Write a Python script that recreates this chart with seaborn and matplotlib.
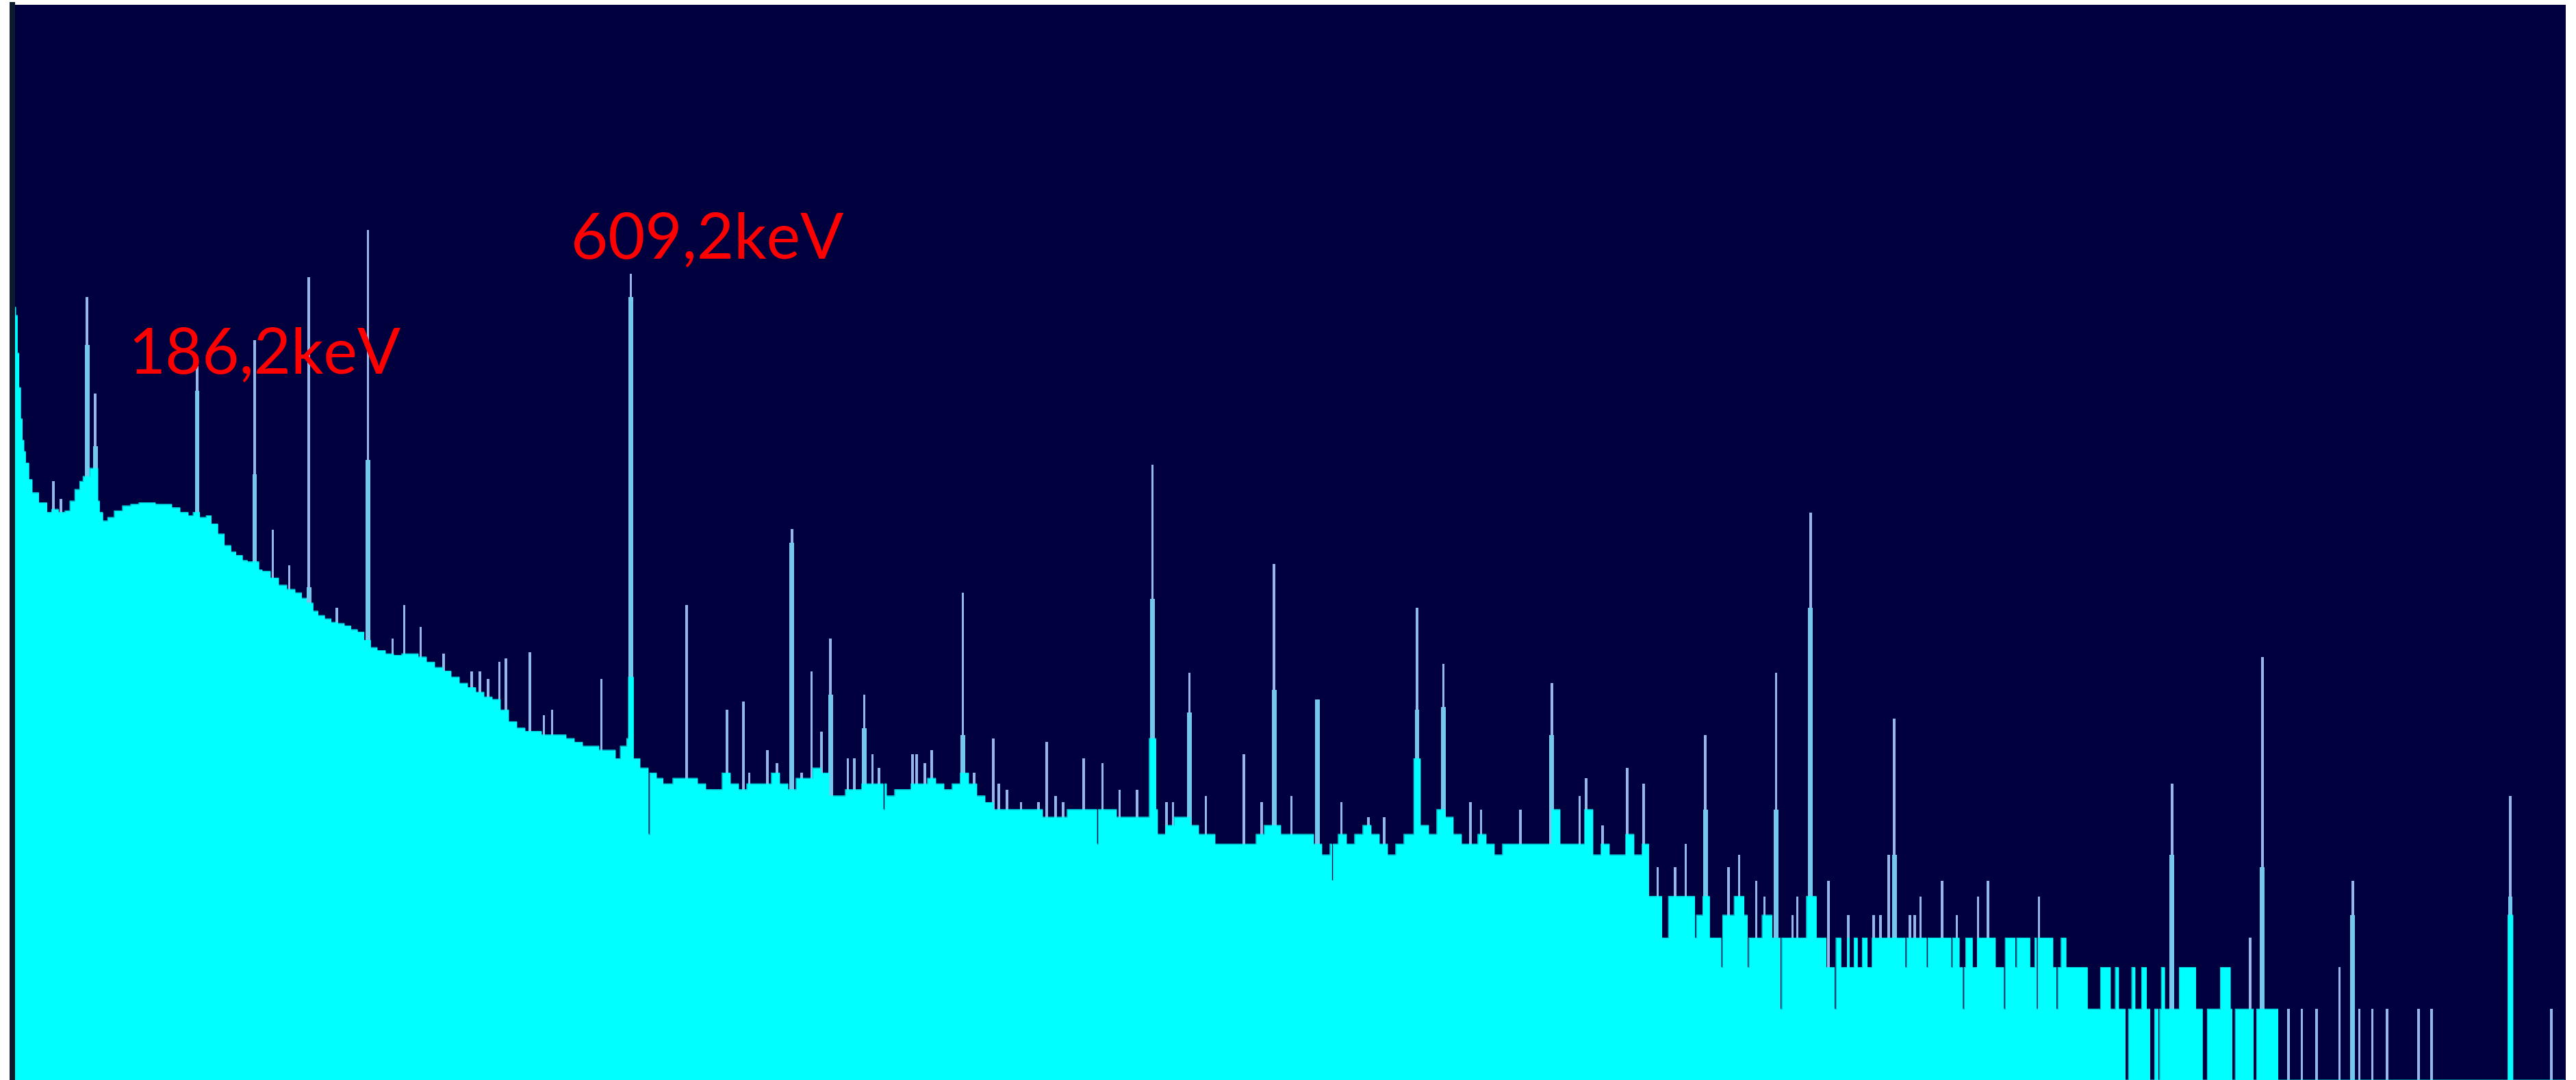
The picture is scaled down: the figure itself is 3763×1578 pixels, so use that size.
import numpy as np
import pandas as pd
import matplotlib
matplotlib.use("Agg")
import matplotlib.pyplot as plt
import seaborn as sns

# ---------------- spectrum data ----------------
# continuum counts, piecewise per channel block (value holds until the next channel)
cont_channel = [8, 10, 11, 12, 13, 14, 15, 16, 18, 20, 24, 29, 32, 36, 40, 43, 46, 49, 51, 55,
                60, 61, 63, 66, 70, 75, 80, 85, 90, 95, 100, 105, 110, 115, 118, 122, 126, 129,
                133, 137, 141, 144, 148, 151, 158, 160, 165, 170, 175, 180, 184, 187, 191, 194,
                198, 202, 206, 210, 214, 218, 222, 226, 230, 235, 240, 245, 250, 255, 260, 265,
                270, 275, 280, 285, 290, 295, 300, 305, 310, 315, 320, 325, 330, 335, 340, 345,
                350, 355, 360, 365, 370, 375, 378, 382, 386, 390, 395, 400, 404, 410, 415, 420,
                425, 430, 435, 440, 445, 450, 455, 460, 465, 470, 475, 480, 485, 490, 495, 500,
                505, 510, 515, 520, 525, 530, 535, 540, 545, 550, 555, 560, 565, 570, 575, 580,
                585, 590, 595, 600, 605, 610, 615, 620, 625, 630, 635, 640, 645, 650, 655, 660,
                665, 670, 675, 680, 685, 690, 695, 700, 705, 710, 715, 720, 725, 730, 735, 740,
                745, 750, 755, 760, 765, 770, 775, 780, 785, 790, 795, 800, 805, 810, 815, 820,
                825, 830, 835, 840, 845, 850, 855, 860, 865, 870, 875, 880, 885, 890, 895, 900,
                905, 910, 915, 920, 925, 930, 935, 940, 945, 950, 955, 960, 965, 970, 975, 980,
                985, 990, 995, 1000, 1004, 1012, 1016, 1033, 1037, 1041, 1049, 1056, 1062, 1065,
                1073, 1079, 1100, 1106, 1250, 1271, 1387]
cont_counts = [1880, 1735, 1200, 858, 632, 513, 459, 410, 349, 307, 278, 253, 261, 253, 257, 283,
               317, 343, 360, 390, 283, 253, 233, 241, 257, 270, 274, 278, 278, 274, 274, 265,
               253, 245, 253, 241, 245, 226, 205, 183, 172, 166, 158, 156, 144, 142, 133, 124,
               119, 115, 109, 104, 96, 92, 89, 86, 85, 83, 80, 78, 72, 67, 65, 63, 62, 63, 63,
               61, 58, 55, 53, 50, 47, 45, 43, 41, 40, 36, 32, 30, 29, 29, 28, 28, 28, 27, 26,
               25, 25, 24, 24, 22, 25, 27, 22, 20, 19, 18, 17, 18, 18, 18, 17, 16, 16, 19, 17,
               16, 17, 17, 17, 19, 17, 16, 18, 18, 20, 19, 15, 15, 16, 16, 17, 17, 17, 15, 16,
               16, 17, 17, 18, 17, 16, 17, 19, 17, 15, 14, 13, 13, 13, 13, 13, 13, 12, 12, 12,
               13, 13, 13, 13, 13, 13, 12, 12, 12, 12, 13, 10, 11, 12, 12, 11, 10, 10, 9, 9, 9,
               9, 9, 10, 11, 11, 10, 10, 10, 10, 9, 8, 9, 10, 9, 10, 11, 10, 9, 8, 9, 10, 10,
               11, 10, 13, 12, 10, 9, 9, 10, 9, 8, 9, 9, 9, 9, 9, 9, 13, 9, 9, 9, 13, 8, 9, 8,
               8, 10, 8, 9, 5, 3, 5, 4, 5, 3, 4, 5, 4, 3, 4, 3, 5, 3, 2, 1, 0]

# channel ranges whose counts differ from the continuum block (start, stop, counts)
block_start = [395, 538, 668, 811, 1032, 1048, 1064, 1084,
               1112, 1117, 1121, 1126, 1131, 1137, 1160, 1173, 1188, 1193, 1195, 1201,
               1215, 1220, 1227, 1236, 1240, 1252, 1255,
               1279, 1288, 1294, 1298, 1304, 1309, 1314, 1316, 1327, 1341, 1352, 1359, 1372]
block_stop = [395, 538, 668, 811, 1032, 1048, 1064, 1084,
              1116, 1117, 1124, 1128, 1133, 1139, 1160, 1173, 1188, 1196, 1195, 1203,
              1219, 1220, 1227, 1238, 1240, 1252, 1257,
              1284, 1289, 1295, 1299, 1306, 1311, 1314, 1317, 1336, 1343, 1357, 1360, 1373]
block_counts = [10, 13, 9, 6, 3, 2, 2, 1,
                2, 1, 2, 2, 2, 2, 2, 2, 2, 2, 1, 2,
                2, 1, 2, 2, 1, 1, 3,
                2, 2, 0, 2, 2, 0, 0, 2, 2, 0, 2, 0, 0]

# photopeaks: channel, peak counts, counts of the wider shoulder, counts of the broad foot
peak_channel = [53, 58, 120, 155, 188, 224, 384, 482, 505.5, 526, 586, 701.5, 724, 775.5, 802,
                862.5, 878.5, 944.5, 1038, 1081, 1102, 1153, 1322, 1377, 1432, 1528]
peak_counts = [2070, 806, 1057, 1366, 2510, 3995, 2595, 215, 73, 42, 115, 403, 52, 153, 40,
               99, 57, 47, 28, 52, 253, 33, 17, 61, 6, 15]
peak_shoulder = [1300, 482, 830, 367, 121, 424, 2070, 188, 42, 30, 28, 108, 35, 44, 40,
                 36, 37, 28, 13, 13, 99, 8, 8, 7, 4, 5]
peak_base = [0, 0, 0, 0, 0, 0, 50, 0, 0, 0, 0, 27, 0, 0, 0, 22, 0, 0, 0, 0, 0, 0, 0, 0, 0, 4]

# single-channel lines above the continuum
spike_channel = [32.5, 37, 166, 176, 205, 239, 246, 256, 270, 287, 292, 297, 304, 308, 322.5,
                 331, 336, 366, 418, 442.5, 452.5, 456, 467, 473, 488, 494, 500, 516, 520, 531,
                 535, 555.5, 558, 563, 567, 593, 604.5, 608, 613, 621.5, 632, 637, 642.5, 647,
                 659.5, 671, 681.5, 692, 710, 714, 734, 757, 768, 786, 816.5, 833, 842.5, 895,
                 901.5, 925.5, 961.5, 965.5, 975.5, 990.5, 1000.5, 1009, 1019.5, 1026, 1052,
                 1058.5, 1069, 1074, 1091, 1094, 1113,
                 1125, 1140.5, 1144.5, 1149.5, 1162.5, 1165.5, 1169, 1182, 1191, 1204, 1210, 1241,
                 1369.5,
                 1393, 1401, 1410, 1424, 1436, 1444, 1453, 1472, 1480, 1553]
spike_counts = [343, 288, 213, 150, 99, 73, 102, 82, 63, 53, 53, 49, 58, 60, 64,
                34, 36, 49, 102, 36, 39, 19, 24, 21, 19, 53, 29, 22, 22, 23,
                20, 23, 23, 21, 24, 19, 27, 17, 16, 14, 14, 26, 15, 14,
                22, 21, 16, 16, 14, 14, 15, 23, 14, 15, 14, 12, 12, 14,
                13, 13, 15, 18, 11, 20, 17, 7, 7, 9, 7,
                8, 6, 5, 4, 5, 6,
                4, 4, 4, 8, 4, 4, 5, 6, 4, 5, 6, 5,
                3,
                1, 1, 1, 2, 1, 1, 1, 1, 1, 1]

line_labels = ["186,2keV", "609,2keV"]

assert len(cont_channel) == len(cont_counts)
assert len(spike_channel) == len(spike_counts)
assert len(block_start) == len(block_stop) == len(block_counts)

# ---------------- build per-channel spectrum ----------------
channels = np.arange(8, 1562)
idx = np.searchsorted(cont_channel, channels, side="right") - 1
spectrum = np.asarray(cont_counts, dtype=float)[idx]
for ch, b in zip(peak_channel, peak_base):
    if b > 0:
        m = np.abs(channels - ch) <= 1.5
        spectrum[m] = np.maximum(spectrum[m], b)
for a, b, c in zip(block_start, block_stop, block_counts):
    spectrum[(channels >= a) & (channels <= b)] = c
spec_df = pd.DataFrame({"channel": channels, "counts": spectrum})

# ---------------- figure ----------------
W, H = 3763, 1578
sns.set_theme(style="white")
plt.rcParams["font.family"] = ["Lato", "DejaVu Sans"]

BG = "#00003f"
CYAN = "#00ffff"
LINE = "#92b8ea"
SHOULDER = "#74c8ee"

fig = plt.figure(figsize=(W / 100, H / 100), dpi=100, facecolor="white")
ax = fig.add_axes([18 / W, 0, (3748 - 18) / W, 1 - 7 / H])
ax.set_facecolor(BG)
ax.set_yscale("function", functions=(np.log1p, np.expm1))

# narrow peak tops and their shoulders
ax.bar(peak_channel, peak_counts, width=1.5, color=LINE, linewidth=0, zorder=2)
ax.bar(peak_channel, peak_shoulder, width=2.8, color=SHOULDER, linewidth=0, zorder=2.1)
ax.bar(spike_channel, spike_counts, width=1.5, color=LINE, linewidth=0, zorder=2)

# continuum as a filled channel histogram
ax.fill_between(spec_df["channel"], spec_df["counts"], step="mid",
                color=CYAN, linewidth=0, zorder=3)
sns.lineplot(data=spec_df, x="channel", y="counts", estimator=None,
             drawstyle="steps-mid", color=CYAN, linewidth=0.6, ax=ax, zorder=3)

ax.set_xlim(7.5, 1561.7)
ax.set_ylim(0, 35900)
ax.set_xlabel("")
ax.set_ylabel("")
ax.set_xticks([])
ax.set_yticks([])
for side in ("top", "right", "bottom"):
    ax.spines[side].set_visible(False)
ax.spines["left"].set_color("#0c1c2c")
ax.spines["left"].set_linewidth(8 * 72 / 100)
ax.spines["left"].set_zorder(5)

# energy labels
label_pos = [(187, 545), (834, 377)]
target_w = 398
for text, (px, py) in zip(line_labels, label_pos):
    t = fig.text(px / W, 1 - py / H, text, color="#ff0000", fontsize=66,
                 ha="left", va="baseline")
    fig.canvas.draw()
    bw = t.get_window_extent().width
    t.set_fontsize(66 * target_w / bw)

fig.savefig("out.png", dpi=100, facecolor="white")
